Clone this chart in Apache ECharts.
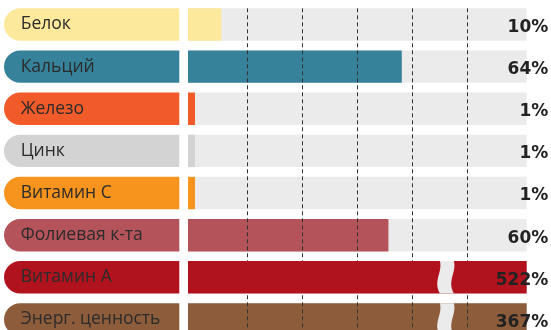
<!DOCTYPE html>
<html>
<head>
<meta charset="utf-8">
<script src="https://cdn.jsdelivr.net/npm/echarts@6/dist/echarts.min.js"></script>
<style>html,body{margin:0;padding:0;background:#fff;overflow:hidden}#c{width:551px;height:345px}</style>
</head>
<body>
<div id="c"></div>
<script>
const categories = ['Белок', 'Кальций', 'Железо', 'Цинк', 'Витамин С', 'Фолиевая к-та', 'Витамин А', 'Энерг. ценность'];
const values = [10, 64, 1, 1, 1, 60, 522, 367];
const colors = ['#fde99b', '#36829b', '#f15a29', '#d3d3d3', '#f7941d', '#b5535b', '#b0131d', '#8c5c3b'];
const valueLabels = values.map(v => v + '%');
const axisMax = 101.4;      // right end of the track
const breakAt = 77.2;       // where the break mark is drawn on overflowing bars
const coverRows = ['Витамин А'];
const gridSteps = 6;

const rowTop = 3.43, rowsHeight = 337.1, barW = 32.4;

const isCover = i => coverRows.indexOf(categories[i]) >= 0;
const mainData = values.map((v, i) => isCover(i) ? '-' : { value: Math.min(v, axisMax), itemStyle: { color: colors[i] } });
const coverData = values.map((v, i) => isCover(i) ? { value: Math.min(v, axisMax), itemStyle: { color: colors[i] } } : '-');
const breakData = values.map((v, i) => [breakAt, i, v > axisMax ? 1 : 0]).filter(d => d[2]);

const chart = echarts.init(document.getElementById('c'), null, { renderer: 'canvas' });
chart.setOption({
  animation: false,
  grid: [
    { left: 188, width: 338.7, top: rowTop, height: rowsHeight },
    { left: 4, width: 175.3, top: rowTop, height: rowsHeight },
    { left: 192.9, width: 328.8, top: 8.3, bottom: 0 }
  ],
  xAxis: [
    { gridIndex: 0, type: 'value', min: 0, max: axisMax, show: false },
    { gridIndex: 1, type: 'value', min: 0, max: 1, show: false },
    { gridIndex: 2, type: 'value', min: 0, max: gridSteps, interval: 1, z: 3,
      axisLine: { show: false }, axisTick: { show: false }, axisLabel: { show: false },
      splitLine: { show: true, showMinLine: false, showMaxLine: false,
        lineStyle: { color: '#333', width: 1, type: [4, 3] } } }
  ],
  yAxis: [
    { gridIndex: 0, type: 'category', data: categories, inverse: true, show: false },
    { gridIndex: 1, type: 'category', data: categories, inverse: true, show: false },
    { gridIndex: 2, type: 'value', min: 0, max: 1, show: false }
  ],
  series: [
    { type: 'bar', xAxisIndex: 1, yAxisIndex: 1, barWidth: barW, silent: true,
      data: categories.map((c, i) => ({ value: 1, itemStyle: { color: colors[i] } })),
      itemStyle: { borderRadius: [16.2, 0, 0, 16.2] },
      label: { show: true, position: 'insideLeft', distance: 16.7,
        formatter: p => categories[p.dataIndex],
        color: '#2b2b2b', fontSize: 17.5, fontFamily: 'Open Sans' } },
    { type: 'bar', xAxisIndex: 0, yAxisIndex: 0, barWidth: barW, barGap: '-100%', z: 1, silent: true,
      data: categories.map(() => axisMax), itemStyle: { color: '#ebebeb' } },
    { type: 'bar', xAxisIndex: 0, yAxisIndex: 0, barWidth: barW, barGap: '-100%', z: 2, silent: true,
      barMinHeight: 7, data: mainData },
    { type: 'bar', xAxisIndex: 0, yAxisIndex: 0, barWidth: barW, barGap: '-100%', z: 4, silent: true,
      barMinHeight: 7, data: coverData },
    { type: 'custom', xAxisIndex: 0, yAxisIndex: 0, z: 5, silent: true,
      data: breakData,
      renderItem: (params, api) => {
        const p = api.coord([api.value(0), api.value(1)]);
        const cx = p[0], top = p[1] - barW / 2, h = barW, bot = top + h;
        const d = 'M' + (cx - 6) + ' ' + top +
          ' C' + (cx - 3) + ' ' + (top + 0.35 * h) + ' ' + (cx - 13) + ' ' + (top + 0.6 * h) + ' ' + (cx - 6) + ' ' + bot +
          ' L' + (cx + 8) + ' ' + bot +
          ' C' + (cx + 1) + ' ' + (top + 0.6 * h) + ' ' + (cx + 11) + ' ' + (top + 0.35 * h) + ' ' + (cx + 8) + ' ' + top + ' Z';
        return { type: 'path', shape: { pathData: d }, style: { fill: '#ebebeb' } };
      } },
    { type: 'bar', xAxisIndex: 0, yAxisIndex: 0, barWidth: barW, barGap: '-100%', z: 6, silent: true,
      data: categories.map(() => axisMax), itemStyle: { color: 'rgba(0,0,0,0)' },
      label: { show: true, position: 'insideRight', distance: 0, offset: [21.6, 3],
        formatter: p => valueLabels[p.dataIndex],
        color: '#222', fontSize: 17, fontWeight: 'bold', fontFamily: 'DejaVu Sans' } }
  ]
});
</script>
</body>
</html>
